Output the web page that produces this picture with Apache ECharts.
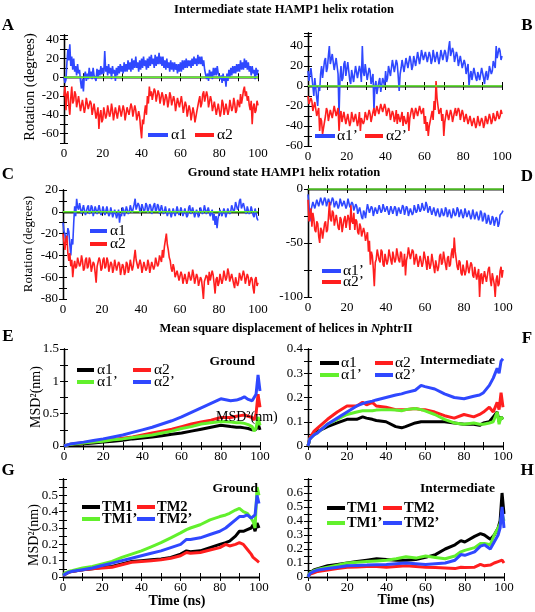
<!DOCTYPE html>
<html><head><meta charset="utf-8">
<script src="https://cdn.jsdelivr.net/npm/echarts@6/dist/echarts.min.js"></script>
<style>html,body{margin:0;padding:0;background:#fff}#c{width:535px;height:612px}</style>
</head><body><div id="c"></div><script>
// ---------- DATA ----------
const timeRot = [0,0.5,1,1.5,2,2.5,3,3.5,4,4.5,5,5.5,6,6.5,7,7.5,8,8.5,9,9.5,10,10.5,11,11.5,12,12.5,13,13.5,14,14.5,15,15.5,16,16.5,17,17.5,18,18.5,19,19.5,20,20.5,21,21.5,22,22.5,23,23.5,24,24.5,25,25.5,26,26.5,27,27.5,28,28.5,29,29.5,30,30.5,31,31.5,32,32.5,33,33.5,34,34.5,35,35.5,36,36.5,37,37.5,38,38.5,39,39.5,40,40.5,41,41.5,42,42.5,43,43.5,44,44.5,45,45.5,46,46.5,47,47.5,48,48.5,49,49.5,50,50.5,51,51.5,52,52.5,53,53.5,54,54.5,55,55.5,56,56.5,57,57.5,58,58.5,59,59.5,60,60.5,61,61.5,62,62.5,63,63.5,64,64.5,65,65.5,66,66.5,67,67.5,68,68.5,69,69.5,70,70.5,71,71.5,72,72.5,73,73.5,74,74.5,75,75.5,76,76.5,77,77.5,78,78.5,79,79.5,80,80.5,81,81.5,82,82.5,83,83.5,84,84.5,85,85.5,86,86.5,87,87.5,88,88.5,89,89.5,90,90.5,91,91.5,92,92.5,93,93.5,94,94.5,95,95.5,96,96.5,97,97.5,98,98.5,99,99.5,100];
const rotA_a1 = [0,-6,-3,15,30,18,35,12,22,8,20,6,12,2,14,4,8,-4,-12,-2,-15,2,6,-4,4,-2,10,0,6,-2,10,2,4,-4,9,0,8,2,12,3,10,4,28,6,12,2,14,4,10,-2,12,4,8,-4,10,2,12,4,14,6,12,4,16,6,14,6,18,8,16,6,20,8,18,10,22,10,16,6,18,8,20,10,22,12,18,8,20,10,22,12,24,14,20,10,24,12,22,14,26,14,22,12,22,10,18,8,20,10,16,6,18,8,16,6,16,8,14,4,14,6,16,6,18,8,18,10,20,10,18,12,18,10,20,12,22,14,20,12,24,14,22,14,22,12,18,8,6,-2,4,-4,8,0,6,-2,10,2,10,2,12,4,6,-2,2,-6,4,-4,0,-10,4,-4,8,0,10,2,12,4,12,4,14,6,14,6,18,8,16,8,20,10,18,8,16,6,12,2,12,4,8,-2,10,2,8];
const rotA_a2 = [-20,-10,-35,-18,-15,-30,-40,-22,-10,-28,-25,-15,-18,-32,-30,-20,-22,-36,-35,-24,-25,-38,-32,-22,-20,-34,-35,-25,-28,-40,-40,-28,-30,-44,-45,-32,-55,-40,-35,-48,-45,-32,-32,-44,-40,-30,-30,-42,-38,-28,-35,-46,-45,-32,-32,-44,-42,-30,-30,-42,-40,-30,-35,-46,-45,-32,-30,-40,-38,-28,-32,-42,-40,-30,-35,-46,-48,-36,-42,-55,-65,-45,-50,-38,-30,-40,-20,-28,-10,-20,-15,-24,-22,-12,-15,-26,-25,-14,-18,-28,-28,-16,-20,-30,-30,-18,-22,-32,-26,-16,-20,-30,-32,-20,-25,-36,-35,-22,-22,-32,-30,-20,-28,-38,-38,-26,-30,-42,-42,-30,-35,-46,-45,-32,-38,-48,-50,-36,-35,-25,-20,-32,-28,-18,-15,-26,-25,-15,-20,-32,-30,-20,-25,-36,-38,-26,-28,-40,-40,-28,-30,-42,-36,-24,-28,-40,-40,-28,-30,-40,-35,-24,-25,-36,-32,-22,-28,-38,-35,-24,-24,-32,-18,-28,-22,-14,-10,-20,-15,-25,-20,-30,-35,-25,-50,-32,-28,-38,-35,-25,-30];
const rotB_a1p = [15,5,5,18,18,0,-10,8,10,-12,-20,0,-5,12,20,8,10,25,28,14,18,30,40,22,20,32,30,16,15,28,28,12,-30,8,20,5,8,22,25,10,10,24,22,6,2,16,18,4,5,20,22,8,8,20,15,4,40,14,10,22,20,6,5,18,15,2,0,12,-25,0,5,-8,-10,4,8,-6,-5,8,10,0,15,4,8,20,22,10,12,26,28,14,15,26,22,10,-5,12,18,26,25,14,15,28,28,18,18,30,25,16,20,30,30,20,22,34,32,22,28,36,35,26,25,34,32,24,24,34,30,22,26,36,34,24,25,34,32,22,28,36,35,26,26,36,33,24,28,38,45,30,30,38,34,24,25,34,30,20,22,30,28,18,18,26,22,12,12,22,0,10,15,6,8,18,18,8,5,14,15,6,8,18,18,8,2,12,15,6,10,20,20,12,15,25,25,18,40,28,28,38,35,26,30];
const rotB_a2p = [-10,-18,-20,-12,-15,-25,-25,-16,-18,-30,-30,-22,-45,-32,-35,-48,-50,-36,-30,-22,-25,-35,-35,-24,-22,-32,-30,-20,-20,-30,-32,-22,-45,-30,-25,-36,-35,-26,-28,-38,-40,-28,-30,-40,-36,-26,-25,-36,-38,-28,-28,-40,-35,-26,-45,-32,-30,-38,-35,-26,-26,-34,-32,-24,-28,-36,-35,-26,-22,-30,-30,-20,-20,-28,-28,-18,-18,-26,-25,-18,-22,-30,-30,-22,-25,-34,-35,-25,-28,-36,-32,-24,-38,-28,-28,-36,-34,-26,-40,-30,-28,-38,-35,-26,-45,-32,-30,-22,-25,-33,-32,-22,-22,-30,-28,-20,-20,-28,-30,-22,-38,-30,-45,-36,-50,-40,-40,-30,-25,-34,-15,-24,5,-12,-20,-28,-30,-22,-35,-28,-50,-36,-30,-24,-25,-34,-32,-24,-28,-36,-35,-26,-22,-30,-30,-22,-25,-34,-32,-24,-28,-36,-35,-28,-30,-38,-38,-30,-32,-40,-40,-32,-34,-42,-38,-30,-32,-40,-40,-32,-35,-42,-38,-30,-30,-38,-36,-28,-32,-38,-35,-27,-28,-35,-32,-25,-25,-33,-30,-24,-28];
const rotC_a1 = [-10,-18,-20,-28,-25,-15,-18,-30,-40,-25,-30,-10,5,-4,12,4,2,8,8,-2,-2,6,5,-3,-4,4,6,-2,0,6,4,-4,-3,5,5,-2,-2,6,6,-3,0,5,4,-3,-3,5,5,-4,-2,4,3,-5,-5,2,2,-6,-6,2,-10,-2,-4,4,2,-4,-3,5,4,-2,0,6,6,-1,-2,7,12,2,2,8,6,-1,0,7,8,0,2,8,6,-1,0,7,5,-2,-2,6,8,0,2,7,5,-2,-2,6,6,-2,0,5,4,-4,-4,3,2,-5,-5,3,3,-4,-3,5,5,-3,-2,4,4,-4,-4,3,2,-5,-3,4,6,-2,-2,4,3,-5,-5,2,2,-5,-4,4,5,-2,0,6,6,-2,-2,4,4,-4,-4,2,-8,-2,-12,-4,-15,-6,-5,2,2,-4,-3,3,0,-5,-4,3,4,-2,0,6,6,0,2,9,10,2,4,10,12,3,2,8,8,0,-2,5,6,-2,0,5,5,-3,-5,3,2,-6,-8];
const rotC_a2 = [-20,-28,-35,-25,-22,-38,-45,-38,-50,-44,-60,-50,-45,-52,-50,-42,-42,-50,-48,-40,-45,-54,-52,-44,-42,-52,-50,-42,-45,-55,-55,-46,-48,-56,-65,-50,-50,-42,-45,-54,-52,-44,-42,-52,-50,-42,-45,-55,-55,-46,-48,-56,-52,-44,-45,-54,-55,-46,-48,-58,-58,-48,-50,-58,-55,-46,-48,-56,-52,-44,-45,-54,-50,-42,-35,-44,-45,-52,-52,-44,-48,-56,-55,-46,-45,-54,-52,-44,-48,-56,-55,-46,-45,-53,-50,-42,-42,-50,-48,-40,-40,-46,-35,-42,-32,-26,-20,-30,-35,-42,-45,-52,-55,-48,-52,-60,-60,-54,-55,-63,-62,-55,-58,-66,-65,-57,-58,-66,-62,-55,-55,-63,-60,-53,-58,-66,-65,-57,-60,-68,-68,-60,-62,-70,-80,-64,-65,-58,-60,-67,-55,-63,-62,-54,-58,-66,-75,-62,-60,-68,-65,-57,-58,-66,-62,-54,-55,-63,-60,-52,-56,-64,-65,-57,-58,-66,-70,-60,-60,-68,-65,-56,-55,-63,-62,-54,-58,-66,-65,-57,-60,-68,-68,-60,-62,-70,-75,-62,-60,-68,-65];
const rotD_a1p = [-5,-15,-30,-20,-20,-12,-12,-18,-18,-10,-10,-16,-15,-8,-8,-15,-14,-8,-10,-16,-16,-9,-8,-15,-14,-8,-10,-17,-18,-11,-12,-18,-15,-9,-10,-16,-17,-11,-12,-18,-15,-9,-10,-17,-18,-12,-14,-20,-20,-14,-16,-23,-24,-17,-18,-26,-28,-20,-22,-27,-20,-14,-15,-22,-22,-16,-18,-25,-24,-17,-16,-23,-22,-15,-15,-22,-20,-14,-14,-21,-22,-16,-17,-24,-23,-16,-16,-23,-22,-16,-18,-25,-24,-17,-16,-23,-22,-15,-17,-24,-23,-16,-18,-25,-25,-18,-17,-24,-22,-15,-15,-22,-20,-14,-14,-21,-19,-13,-13,-20,-18,-12,-15,-22,-22,-16,-17,-24,-23,-17,-18,-25,-25,-18,-19,-26,-24,-18,-18,-25,-23,-17,-19,-26,-26,-19,-20,-27,-24,-18,-18,-25,-23,-17,-19,-26,-25,-19,-20,-27,-24,-18,-19,-26,-26,-20,-21,-28,-25,-19,-20,-28,-27,-21,-22,-29,-26,-20,-22,-30,-28,-22,-24,-32,-30,-24,-25,-33,-31,-25,-27,-34,-33,-26,-28,-35,-32,-24,-25,-22,-20];
const rotD_a2p = [-10,-30,-25,-18,-35,-22,-28,-38,-40,-30,-32,-44,-50,-36,-38,-46,-45,-32,-30,-40,-38,-26,-12,-28,-30,-20,-22,-34,-35,-24,-25,-36,-38,-26,-28,-40,-40,-28,-25,-36,-35,-24,-28,-38,-15,-30,-32,-22,-38,-28,-30,-40,-42,-32,-35,-44,-45,-36,-40,-48,-48,-40,-58,-48,-70,-58,-62,-74,-90,-68,-65,-56,-55,-66,-68,-56,-58,-70,-72,-60,-60,-70,-66,-56,-55,-66,-70,-58,-58,-68,-65,-55,-55,-66,-68,-58,-60,-72,-70,-60,-80,-66,-62,-54,-55,-65,-66,-56,-58,-70,-70,-60,-60,-72,-72,-62,-62,-72,-68,-58,-58,-68,-75,-62,-62,-74,-70,-60,-60,-72,-78,-66,-65,-76,-72,-62,-60,-70,-68,-58,-58,-70,-75,-64,-62,-72,-70,-60,-55,-64,-45,-58,-65,-72,-75,-66,-68,-78,-80,-70,-70,-80,-76,-66,-66,-78,-78,-68,-70,-80,-82,-72,-72,-84,-85,-74,-100,-80,-78,-88,-88,-76,-75,-86,-85,-74,-72,-84,-90,-78,-78,-88,-100,-84,-80,-90,-88,-76,-72,-82,-75];
const refTimes = [0,100];
const refZero = [0,0];

const tE = [0,1,3,5,10,15,20,25,30,35,40,45,50,55,60,65,70,75,80,85,88,90,92,94,96,97,98,99,100];
const msdE_a1  = [0,0.01,0.02,0.025,0.035,0.045,0.06,0.075,0.09,0.11,0.125,0.14,0.16,0.18,0.2,0.23,0.26,0.29,0.32,0.3,0.29,0.29,0.28,0.27,0.25,0.22,0.26,0.35,0.25];
const msdE_a2  = [0,0.015,0.025,0.035,0.05,0.065,0.085,0.1,0.12,0.14,0.17,0.2,0.23,0.26,0.3,0.34,0.37,0.4,0.44,0.44,0.46,0.47,0.48,0.46,0.44,0.4,0.5,0.8,0.6];
const msdE_a1p = [0,0.015,0.025,0.03,0.045,0.06,0.075,0.095,0.11,0.13,0.15,0.17,0.2,0.23,0.27,0.3,0.34,0.36,0.38,0.37,0.36,0.36,0.35,0.33,0.3,0.23,0.28,0.45,0.32];
const msdE_a2p = [0,0.02,0.03,0.04,0.06,0.085,0.11,0.14,0.17,0.21,0.25,0.29,0.34,0.39,0.45,0.52,0.59,0.66,0.73,0.7,0.71,0.73,0.76,0.72,0.7,0.68,0.8,1.1,0.85];

const tF = [0,1,3,5,10,15,20,25,28,30,33,35,40,45,48,50,55,58,60,65,70,75,80,85,88,90,93,95,97,98,99,100];
const msdF_a1  = [0,0.03,0.05,0.06,0.08,0.095,0.11,0.11,0.12,0.115,0.11,0.105,0.1,0.08,0.075,0.08,0.095,0.1,0.1,0.1,0.1,0.095,0.09,0.09,0.085,0.095,0.1,0.12,0.14,0.1,0.12,0.11];
const msdF_a2  = [0,0.035,0.06,0.075,0.11,0.14,0.165,0.165,0.18,0.17,0.18,0.165,0.16,0.15,0.15,0.15,0.155,0.15,0.15,0.14,0.125,0.115,0.13,0.12,0.13,0.14,0.16,0.14,0.18,0.15,0.22,0.16];
const msdF_a1p = [0,0.03,0.045,0.055,0.09,0.11,0.13,0.14,0.145,0.145,0.145,0.148,0.15,0.148,0.145,0.15,0.155,0.15,0.145,0.13,0.11,0.095,0.09,0.095,0.09,0.09,0.095,0.1,0.14,0.09,0.12,0.11];
const msdF_a2p = [0,0.03,0.045,0.055,0.09,0.115,0.14,0.165,0.175,0.18,0.185,0.19,0.2,0.21,0.215,0.22,0.23,0.25,0.245,0.235,0.215,0.2,0.195,0.205,0.21,0.22,0.25,0.28,0.32,0.3,0.35,0.36];

const tG = [0,1,3,5,10,15,20,25,30,35,40,45,50,55,60,63,65,70,75,80,83,85,88,90,92,94,96,97,98,99,100];
const msdG_tm1  = [0.01,0.02,0.03,0.035,0.045,0.05,0.06,0.065,0.08,0.095,0.1,0.105,0.11,0.12,0.14,0.16,0.155,0.16,0.18,0.2,0.21,0.22,0.25,0.28,0.28,0.29,0.3,0.32,0.28,0.33,0.3];
const msdG_tm2  = [0.01,0.02,0.03,0.035,0.045,0.05,0.055,0.06,0.075,0.09,0.095,0.1,0.105,0.115,0.13,0.15,0.145,0.15,0.165,0.18,0.2,0.19,0.2,0.21,0.2,0.17,0.14,0.12,0.11,0.1,0.09];
const msdG_tm1p = [0.01,0.025,0.035,0.04,0.055,0.065,0.08,0.095,0.12,0.14,0.16,0.185,0.21,0.24,0.27,0.29,0.3,0.32,0.35,0.37,0.38,0.39,0.41,0.42,0.4,0.39,0.36,0.34,0.3,0.55,0.5];
const msdG_tm2p = [0.01,0.02,0.03,0.035,0.045,0.055,0.07,0.085,0.1,0.115,0.13,0.145,0.16,0.18,0.2,0.23,0.23,0.24,0.26,0.28,0.3,0.32,0.35,0.37,0.37,0.38,0.36,0.35,0.38,0.5,0.45];

const tH = [0,1,3,5,10,15,20,25,30,35,40,45,50,55,60,65,70,75,78,80,85,88,90,93,95,97,98,99,100];
const msdH_tm1  = [0,0.03,0.05,0.06,0.08,0.09,0.1,0.11,0.12,0.13,0.125,0.12,0.12,0.125,0.14,0.16,0.2,0.23,0.26,0.25,0.29,0.31,0.3,0.27,0.3,0.35,0.4,0.6,0.45];
const msdH_tm2  = [0,0.02,0.03,0.04,0.05,0.06,0.07,0.072,0.075,0.075,0.07,0.075,0.08,0.075,0.07,0.068,0.065,0.06,0.07,0.068,0.07,0.09,0.08,0.085,0.1,0.11,0.12,0.12,0.1];
const msdH_tm1p = [0,0.03,0.045,0.055,0.07,0.085,0.1,0.105,0.11,0.115,0.12,0.13,0.145,0.135,0.15,0.14,0.13,0.15,0.18,0.19,0.21,0.24,0.24,0.23,0.3,0.35,0.38,0.45,0.4];
const msdH_tm2p = [0,0.025,0.04,0.05,0.06,0.07,0.08,0.083,0.085,0.088,0.09,0.095,0.1,0.095,0.09,0.095,0.1,0.12,0.16,0.155,0.18,0.22,0.23,0.2,0.25,0.3,0.35,0.5,0.35];

const xLabels = [0,20,40,60,80,100];
const yLabelsA = [-60,-40,-20,0,20,40];
const yLabelsB = [-60,-40,-20,0,20,40];
const yLabelsC = [-80,-60,-40,-20,0,20];
const yLabelsD = [-100,-50,0];
const yLabelsE = [0,0.5,1,1.5];
const yLabelsF = [0,0.1,0.2,0.3,0.4];
const yLabelsG = [0,0.1,0.2,0.3,0.4,0.5];
const yLabelsH = [0,0.1,0.2,0.3,0.4,0.5,0.6];

// ---------- STYLE ----------
const BLUE='#2f48ff', RED='#ff1e1e', GREEN='#62f02c', BLACK='#000000';
const SERIF="Liberation Serif";

function zip(t,v){return t.map((x,i)=>[x,v[i]]);}
function has(arr,v){return arr.some(a=>Math.abs(a-v)<1e-6);}
function fmt(v){return String(parseFloat(v.toFixed(3)));}

const panels = [
 {g:{left:64,top:35,width:194,height:108}, ymin:-70,ymax:45,yint:10,ylab:yLabelsA, lw:1.6,
  s:[[timeRot,rotA_a1,BLUE],[timeRot,rotA_a2,RED],[refTimes,refZero,GREEN]]},
 {g:{left:308,top:33,width:194,height:113}, ymin:-60,ymax:53,yint:10,ylab:yLabelsB, lw:1.6,
  s:[[timeRot,rotB_a1p,BLUE],[timeRot,rotB_a2p,RED],[refTimes,refZero,GREEN]]},
 {g:{left:63,top:190,width:195,height:109}, ymin:-80,ymax:20,yint:10,ylab:yLabelsC, lw:1.6,
  s:[[timeRot,rotC_a1,BLUE],[timeRot,rotC_a2,RED],[refTimes,refZero,GREEN]]},
 {g:{left:308,top:189,width:195,height:108}, ymin:-100,ymax:0,yint:25,ylab:yLabelsD, lw:1.6,
  s:[[timeRot,rotD_a1p,BLUE],[timeRot,rotD_a2p,RED],[refTimes,refZero,GREEN]]},
 {g:{left:64,top:349,width:196,height:97}, ymin:0,ymax:1.5,yint:0.25,ylab:yLabelsE, lw:3,
  s:[[tE,msdE_a1,BLACK],[tE,msdE_a2,RED],[tE,msdE_a1p,GREEN],[tE,msdE_a2p,BLUE]]},
 {g:{left:308,top:349,width:195,height:97}, ymin:0,ymax:0.4,yint:0.05,ylab:yLabelsF, lw:3,
  s:[[tF,msdF_a1,BLACK],[tF,msdF_a2,RED],[tF,msdF_a1p,GREEN],[tF,msdF_a2p,BLUE]]},
 {g:{left:63,top:479,width:196,height:98}, ymin:0,ymax:0.6,yint:0.05,ylab:yLabelsG, lw:3,
  s:[[tG,msdG_tm1,BLACK],[tG,msdG_tm2,RED],[tG,msdG_tm1p,GREEN],[tG,msdG_tm2p,BLUE]]},
 {g:{left:308,top:479,width:196,height:98}, ymin:0,ymax:0.7,yint:0.05,ylab:yLabelsH, lw:3,
  s:[[tH,msdH_tm1,BLACK],[tH,msdH_tm2,RED],[tH,msdH_tm1p,GREEN],[tH,msdH_tm2p,BLUE]]}
];

const grid=[], xAxis=[], yAxis=[], series=[];
const lineAx = {show:true, lineStyle:{color:'#000',width:1.3}};
const tickSt = {show:true,inside:true,length:4,lineStyle:{color:'#000',width:1}};
panels.forEach((p,i)=>{
  grid.push(Object.assign({containLabel:false, outerBoundsMode:'none'}, p.g));
  xAxis.push({gridIndex:i,type:'value',min:0,max:100,interval:10,position:'bottom',
    axisLine:lineAx, splitLine:{show:false}, axisTick:tickSt,
    axisLabel:{show:true,margin:4,color:'#000',fontFamily:SERIF,fontSize:13,
      formatter:v=>has(xLabels,v)?fmt(v):''}});
  xAxis.push({gridIndex:i,type:'value',min:0,max:100,interval:10,position:'top',
    axisLine:lineAx, splitLine:{show:false}, axisTick:tickSt, axisLabel:{show:false}});
  yAxis.push({gridIndex:i,type:'value',min:p.ymin,max:p.ymax,interval:p.yint,position:'left',
    axisLine:lineAx, splitLine:{show:false}, axisTick:tickSt,
    axisLabel:{show:true,margin:5,color:'#000',fontFamily:SERIF,fontSize:13,
      formatter:v=>has(p.ylab,v)?fmt(v):''}});
  yAxis.push({gridIndex:i,type:'value',min:p.ymin,max:p.ymax,interval:p.yint,position:'right',
    axisLine:lineAx, splitLine:{show:false}, axisTick:tickSt, axisLabel:{show:false}});
  p.s.forEach(([t,v,c])=>{
    series.push({type:'line',xAxisIndex:2*i,yAxisIndex:2*i,data:zip(t,v),
      showSymbol:false,symbol:'none',animation:false,clip:true,
      lineStyle:{color:c,width:(t===refTimes)?1.5:p.lw}});
  });
});

// ---------- TEXT / LEGENDS ----------
const G=[];
function txt(text,x,y,size,opt){opt=opt||{};
  G.push({type:'text',x:x,y:y,rotation:opt.rot||0,z:100,
    style:{text:text,fill:'#000',font:(opt.italic?'italic ':'')+(opt.bold?'bold ':'')+size+'px "Liberation Serif"',
      align:opt.align||'left',verticalAlign:'middle'}});
}
function sw(x1,x2,y,c){G.push({type:'line',z:100,shape:{x1:x1,y1:y,x2:x2,y2:y},style:{stroke:c,lineWidth:4}});}

txt('Intermediate state HAMP1 helix rotation',284,10,12.5,{bold:true,align:'center'});
txt('Ground state HAMP1 helix rotation',284,173,12.5,{bold:true,align:'center'});
G.push({type:'text',x:286,y:329,z:100,style:{text:'{b|Mean square displacement of helices in }{i|Np}{b|htrII}',
  align:'center',verticalAlign:'middle',
  rich:{b:{font:'bold 12.5px "Liberation Serif"',fill:'#000'},i:{font:'italic bold 12.5px "Liberation Serif"',fill:'#000'}}}});

txt('A',8,26,17,{bold:true,align:'center'});
txt('B',527,26,17,{bold:true,align:'center'});
txt('C',8,175,17,{bold:true,align:'center'});
txt('D',527,177,17,{bold:true,align:'center'});
txt('E',8,337,17,{bold:true,align:'center'});
txt('F',527,339,17,{bold:true,align:'center'});
txt('G',8,471,17,{bold:true,align:'center'});
txt('H',527,471,17,{bold:true,align:'center'});

txt('Rotation (degrees)',30,87,14.5,{rot:Math.PI/2,align:'center'});
txt('Rotation (degrees)',29,244,13,{rot:Math.PI/2,align:'center'});
txt('MSD\u00b2(nm)',36,397,14,{rot:Math.PI/2,align:'center'});
txt('MSD\u00b2(nm)',34,535,14,{rot:Math.PI/2,align:'center'});
txt('MSD\u00b2(nm)',216,417,14,{});
txt('Time (ns)',177,601,14,{bold:true,align:'center'});
txt('Time (ns)',406,600,14,{bold:true,align:'center'});

// legend A
sw(148,168,135,BLUE); txt('\u03b11',171,135,15.5); sw(195,214,135,RED); txt('\u03b12',217,135,15.5);
// legend B
sw(315,335,136,BLUE); txt('\u03b11\u2019',337,136,15.5); sw(365,383,136,RED); txt('\u03b12\u2019',386,136,15.5);
// legend C
sw(90,107,231,BLUE); txt('\u03b11',110,231,15.5); sw(90,107,244,RED); txt('\u03b12',110,244,15.5);
// legend D
sw(322,341,271,BLUE); txt('\u03b11\u2019',343,271,15.5); sw(322,341,282,RED); txt('\u03b12\u2019',343,282,15.5);
// legend E
sw(77,94,370,BLACK); txt('\u03b11',97,370,15.5); sw(133,151,370,RED); txt('\u03b12',154,370,15.5);
sw(77,94,382,GREEN); txt('\u03b11\u2019',97,382,15.5); sw(133,151,382,BLUE); txt('\u03b12\u2019',154,382,15.5);
txt('Ground',255,362,13.5,{bold:true,align:'right'});
// legend F
sw(320,339,363,BLACK); txt('\u03b11',341,363,15.5); sw(375,393,363,RED); txt('\u03b12',395,363,15.5);
sw(320,339,375,GREEN); txt('\u03b11\u2019',341,375,15.5); sw(375,393,375,BLUE); txt('\u03b12\u2019',395,375,15.5);
txt('Intermediate',495,361,13.5,{bold:true,align:'right'});
// legend G
sw(82,100,507,BLACK); txt('TM1',102,507,14.5,{bold:true}); sw(137,155,507,RED); txt('TM2',157,507,14.5,{bold:true});
sw(82,100,519,GREEN); txt('TM1\u2019',102,519,14.5,{bold:true}); sw(137,155,519,BLUE); txt('TM2\u2019',157,519,14.5,{bold:true});
txt('Ground',258,489,13.5,{bold:true,align:'right'});
// legend H
sw(327,345,508,BLACK); txt('TM1',347,508,14.5,{bold:true}); sw(383,402,508,RED); txt('TM2',404,508,14.5,{bold:true});
sw(327,345,523,GREEN); txt('TM1\u2019',347,523,14.5,{bold:true}); sw(383,402,523,BLUE); txt('TM2\u2019',404,523,14.5,{bold:true});
txt('Intermediate',495,489,13.5,{bold:true,align:'right'});

const chart = echarts.init(document.getElementById('c'),null,{renderer:'canvas'});
chart.setOption({backgroundColor:'#fff',animation:false,grid,xAxis,yAxis,series,graphic:G});
</script></body></html>
